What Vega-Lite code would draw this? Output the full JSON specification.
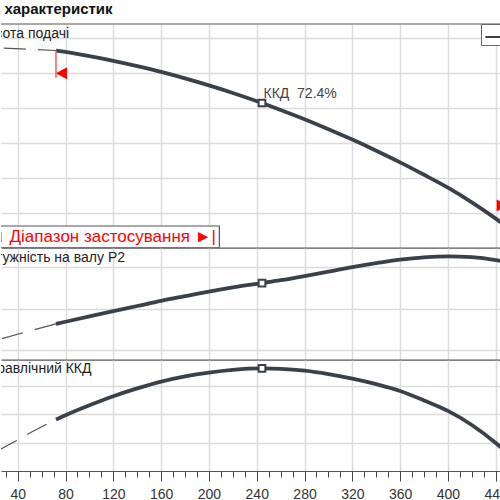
{
  "$schema": "https://vega.github.io/schema/vega-lite/v6.json",
  "padding": {"top": 2, "left": 0, "right": 0, "bottom": 0},
  "spacing": 0,
  "background": "white",
  "title": {"text": "характеристик", "anchor": "start", "fontSize": 15, "fontWeight": "bold", "font": "Liberation Sans", "color": "#111", "offset": 6, "dx": 4},
  "config": {
    "view": {"stroke": null},
    "font": "Liberation Sans",
    "axis": {"title": null, "labels": false, "ticks": false, "domain": false, "grid": true, "gridColor": "#dcdcdc", "gridWidth": 1.5, "minExtent": 0}
  },
  "datasets": {
    "head": [
      {"Q": 0, "value": 38.83, "part": "dashed"},
      {"Q": 26, "value": 38.61, "part": "dashed"},
      {"Q": 50, "value": 38.44, "part": "dashed"},
      {"Q": 72, "value": 38.25, "part": "dashed"},
      {"Q": 72, "value": 38.25, "part": "solid"},
      {"Q": 80, "value": 38.04, "part": "solid"},
      {"Q": 100, "value": 37.45, "part": "solid"},
      {"Q": 120, "value": 36.78, "part": "solid"},
      {"Q": 140, "value": 36.02, "part": "solid"},
      {"Q": 160, "value": 35.19, "part": "solid"},
      {"Q": 180, "value": 34.26, "part": "solid"},
      {"Q": 200, "value": 33.25, "part": "solid"},
      {"Q": 220, "value": 32.17, "part": "solid"},
      {"Q": 244.4, "value": 30.73, "part": "solid"},
      {"Q": 260, "value": 29.74, "part": "solid"},
      {"Q": 280, "value": 28.41, "part": "solid"},
      {"Q": 300, "value": 26.98, "part": "solid"},
      {"Q": 320, "value": 25.49, "part": "solid"},
      {"Q": 340, "value": 23.9, "part": "solid"},
      {"Q": 360, "value": 22.23, "part": "solid"},
      {"Q": 380, "value": 20.45, "part": "solid"},
      {"Q": 400, "value": 18.6, "part": "solid"},
      {"Q": 420, "value": 16.5, "part": "solid"},
      {"Q": 440, "value": 14.17, "part": "solid"},
      {"Q": 450, "value": 12.9, "part": "solid"}
    ],
    "power": [
      {"Q": 0, "value": 20.0, "part": "dashed"},
      {"Q": 26, "value": 21.37, "part": "dashed"},
      {"Q": 50, "value": 22.33, "part": "dashed"},
      {"Q": 72, "value": 23.17, "part": "dashed"},
      {"Q": 72, "value": 23.17, "part": "solid"},
      {"Q": 80, "value": 23.43, "part": "solid"},
      {"Q": 100, "value": 24.07, "part": "solid"},
      {"Q": 120, "value": 24.7, "part": "solid"},
      {"Q": 140, "value": 25.32, "part": "solid"},
      {"Q": 160, "value": 25.94, "part": "solid"},
      {"Q": 180, "value": 26.5, "part": "solid"},
      {"Q": 200, "value": 27.06, "part": "solid"},
      {"Q": 220, "value": 27.56, "part": "solid"},
      {"Q": 244.4, "value": 28.08, "part": "solid"},
      {"Q": 260, "value": 28.42, "part": "solid"},
      {"Q": 280, "value": 28.92, "part": "solid"},
      {"Q": 300, "value": 29.46, "part": "solid"},
      {"Q": 320, "value": 30.0, "part": "solid"},
      {"Q": 340, "value": 30.47, "part": "solid"},
      {"Q": 360, "value": 30.88, "part": "solid"},
      {"Q": 380, "value": 31.16, "part": "solid"},
      {"Q": 400, "value": 31.29, "part": "solid"},
      {"Q": 420, "value": 31.19, "part": "solid"},
      {"Q": 440, "value": 30.83, "part": "solid"},
      {"Q": 450, "value": 30.56, "part": "solid"}
    ],
    "eff": [
      {"Q": 0, "value": 0, "part": "dashed"},
      {"Q": 26, "value": 15.5, "part": "dashed"},
      {"Q": 43, "value": 23.3, "part": "dashed"},
      {"Q": 52, "value": 27.7, "part": "dashed"},
      {"Q": 72, "value": 36.3, "part": "dashed"},
      {"Q": 72, "value": 36.3, "part": "solid"},
      {"Q": 80, "value": 39.4, "part": "solid"},
      {"Q": 100, "value": 46.4, "part": "solid"},
      {"Q": 120, "value": 52.8, "part": "solid"},
      {"Q": 140, "value": 58.3, "part": "solid"},
      {"Q": 160, "value": 63.1, "part": "solid"},
      {"Q": 180, "value": 66.8, "part": "solid"},
      {"Q": 200, "value": 69.5, "part": "solid"},
      {"Q": 220, "value": 71.4, "part": "solid"},
      {"Q": 244.4, "value": 72.4, "part": "solid"},
      {"Q": 260, "value": 72.1, "part": "solid"},
      {"Q": 280, "value": 70.8, "part": "solid"},
      {"Q": 300, "value": 68.4, "part": "solid"},
      {"Q": 320, "value": 65.2, "part": "solid"},
      {"Q": 340, "value": 61.3, "part": "solid"},
      {"Q": 360, "value": 56.5, "part": "solid"},
      {"Q": 380, "value": 49.8, "part": "solid"},
      {"Q": 400, "value": 42.4, "part": "solid"},
      {"Q": 420, "value": 32.5, "part": "solid"},
      {"Q": 440, "value": 19.8, "part": "solid"},
      {"Q": 450, "value": 12.5, "part": "solid"}
    ],
    "bep": [
      {"Q": 244.4, "H": 30.73, "P": 28.08, "eta": 72.4, "label": "ККД\u00a0\u00a072.4%"}
    ],
    "range": [
      {"Q": 72, "H": 38.25, "Hmark": 34.99, "side": "start"},
      {"Q": 450, "H": 12.9, "Hmark": 16.05, "side": "end"}
    ]
  },
  "vconcat": [
    {
      "width": 500,
      "height": 223.7,
      "layer": [
        {
          "data": {"name": "head"},
          "transform": [{"filter": "datum.part == 'dashed'"}],
          "mark": {"type": "line", "clip": true, "color": "#555", "strokeWidth": 1.2, "strokeDash": [22, 12]},
          "encoding": {
            "x": {"field": "Q", "type": "quantitative", "scale": {"domain": [26, 444.4], "nice": false, "zero": false}, "axis": {"values": [40, 80, 120, 160, 200, 240, 280, 320, 360, 400, 440], "domain": true, "domainColor": "#555", "domainWidth": 1.2}},
            "y": {"field": "value", "type": "quantitative", "scale": {"domain": [10, 42.05], "nice": false, "zero": false}, "axis": {"values": [15, 20, 25, 30, 35, 40]}}
          }
        },
        {
          "data": {"name": "head"},
          "transform": [{"filter": "datum.part == 'solid'"}],
          "mark": {"type": "line", "clip": true, "strokeWidth": 3.8, "interpolate": "monotone"},
          "encoding": {
            "x": {"field": "Q", "type": "quantitative"},
            "y": {"field": "value", "type": "quantitative"},
            "stroke": {
              "datum": "curve",
              "scale": {"range": ["#3a414b"]},
              "legend": {
                "orient": "none", "legendX": 480, "legendY": 0, "title": null, "labelExpr": "''",
                "symbolType": "stroke", "symbolStrokeWidth": 2, "symbolSize": 300,
                "strokeColor": "#666", "fillColor": "white", "padding": 3, "labelFontSize": 10, "labelLimit": 40,
                "encode": {"symbols": {"update": {"stroke": {"value": "#999999"}, "strokeWidth": {"value": 2}}}}
              }
            }
          }
        },
        {
          "data": {"values": [{}]},
          "mark": {"type": "rule", "color": "#555", "strokeWidth": 1.2},
          "encoding": {"y": {"datum": 42.05}}
        },
        {
          "data": {"name": "range"},
          "mark": {"type": "rule", "clip": true, "color": "#ff5a5a", "strokeWidth": 1.5, "y2Offset": 4.5},
          "encoding": {
            "x": {"field": "Q", "type": "quantitative"},
            "y": {"field": "H", "type": "quantitative"},
            "y2": {"field": "Hmark"}
          }
        },
        {
          "data": {"name": "range"},
          "mark": {"type": "point", "clip": true, "filled": true, "color": "#ff0000", "opacity": 1, "size": 484},
          "encoding": {
            "x": {"field": "Q", "type": "quantitative"},
            "y": {"field": "Hmark", "type": "quantitative"},
            "shape": {"field": "side", "type": "nominal", "scale": {"domain": ["start", "end"], "range": ["M0,0L1,-0.55L1,0.55Z", "M0,0L-1,-0.55L-1,0.55Z"]}, "legend": null}
          }
        },
        {
          "data": {"name": "bep"},
          "mark": {"type": "point", "clip": true, "shape": "square", "size": 45, "filled": true, "fill": "white", "stroke": "#3a414b", "strokeWidth": 2, "opacity": 1},
          "encoding": {
            "x": {"field": "Q", "type": "quantitative"},
            "y": {"field": "H", "type": "quantitative"}
          }
        },
        {
          "data": {"name": "bep"},
          "mark": {"type": "text", "clip": true, "align": "left", "baseline": "alphabetic", "dx": 1.5, "dy": -5.3, "fontSize": 14, "color": "#444"},
          "encoding": {
            "x": {"field": "Q", "type": "quantitative"},
            "y": {"field": "H", "type": "quantitative"},
            "text": {"field": "label"}
          }
        },
        {
          "data": {"values": [{}]},
          "mark": {"type": "text", "clip": true, "align": "left", "baseline": "alphabetic", "dy": 13.7, "fontSize": 14, "color": "#222"},
          "encoding": {
            "x": {"datum": 7},
            "y": {"datum": 42.05},
            "text": {"value": "Висота подачі"}
          }
        },
        {
          "data": {"values": [{}]},
          "mark": {"type": "rect", "clip": true, "fill": "white", "stroke": "#555", "strokeWidth": 1.2},
          "encoding": {
            "x": {"datum": 0},
            "x2": {"datum": 208.7},
            "y": {"datum": 13.11},
            "y2": {"datum": 10}
          }
        },
        {
          "data": {"values": [{}]},
          "mark": {"type": "text", "clip": true, "align": "right", "baseline": "middle", "fontSize": 17, "color": "#ff0000"},
          "encoding": {
            "x": {"datum": 205.9},
            "y": {"datum": 11.56},
            "text": {"value": "|◄ Діапазон застосування ►|"}
          }
        }
      ]
    },
    {
      "width": 500,
      "height": 111.6,
      "layer": [
        {
          "data": {"name": "power"},
          "transform": [{"filter": "datum.part == 'dashed'"}],
          "mark": {"type": "line", "clip": true, "color": "#555", "strokeWidth": 1.2, "strokeDash": [22, 12]},
          "encoding": {
            "x": {"field": "Q", "type": "quantitative", "scale": {"domain": [26, 444.4], "nice": false, "zero": false}, "axis": {"values": [40, 80, 120, 160, 200, 240, 280, 320, 360, 400, 440], "domain": true, "domainColor": "#555", "domainWidth": 1.2}},
            "y": {"field": "value", "type": "quantitative", "scale": {"domain": [18.88, 32.29], "nice": false, "zero": false}, "axis": {"values": [20, 25, 30]}}
          }
        },
        {
          "data": {"name": "power"},
          "transform": [{"filter": "datum.part == 'solid'"}],
          "mark": {"type": "line", "clip": true, "color": "#3a414b", "strokeWidth": 3.8, "interpolate": "monotone"},
          "encoding": {
            "x": {"field": "Q", "type": "quantitative"},
            "y": {"field": "value", "type": "quantitative"}
          }
        },
        {
          "data": {"name": "bep"},
          "mark": {"type": "point", "clip": true, "shape": "square", "size": 45, "filled": true, "fill": "white", "stroke": "#3a414b", "strokeWidth": 2, "opacity": 1},
          "encoding": {
            "x": {"field": "Q", "type": "quantitative"},
            "y": {"field": "P", "type": "quantitative"}
          }
        },
        {
          "data": {"values": [{}]},
          "mark": {"type": "text", "clip": true, "align": "left", "baseline": "alphabetic", "dy": 13.5, "fontSize": 14, "color": "#222"},
          "encoding": {
            "x": {"datum": 7},
            "y": {"datum": 32.29},
            "text": {"value": "Потужність на валу P2"}
          }
        }
      ]
    },
    {
      "width": 500,
      "height": 111,
      "resolve": {"axis": {"x": "independent"}},
      "layer": [
        {
          "data": {"name": "eff"},
          "transform": [{"filter": "datum.part == 'dashed'"}],
          "mark": {"type": "line", "clip": true, "color": "#555", "strokeWidth": 1.2, "strokeDash": [22, 12]},
          "encoding": {
            "x": {
              "field": "Q", "type": "quantitative", "scale": {"domain": [26, 444.4], "nice": false, "zero": false},
              "axis": {
                "orient": "bottom",
                "values": [30, 50, 60, 70, 90, 100, 110, 130, 140, 150, 170, 180, 190, 210, 220, 230, 250, 260, 270, 290, 300, 310, 330, 340, 350, 370, 380, 390, 410, 420, 430],
                "grid": false, "labels": false,
                "domain": true, "domainColor": "#555", "domainWidth": 1.2,
                "ticks": true, "tickColor": "#444", "tickWidth": 1, "tickSize": 6
              }
            },
            "y": {"field": "value", "type": "quantitative", "scale": {"domain": [0, 78.35], "nice": false, "zero": false}, "axis": {"values": [20, 40, 60]}}
          }
        },
        {
          "data": {"name": "eff"},
          "transform": [{"filter": "datum.part == 'solid'"}],
          "mark": {"type": "line", "clip": true, "color": "#3a414b", "strokeWidth": 3.8, "interpolate": "monotone"},
          "encoding": {
            "x": {
              "field": "Q", "type": "quantitative",
              "axis": {
                "orient": "bottom",
                "values": [40, 80, 120, 160, 200, 240, 280, 320, 360, 400, 440],
                "grid": true, "domain": false,
                "ticks": true, "tickColor": "#444", "tickWidth": 1, "tickSize": 10,
                "labels": true, "labelFontSize": 14, "labelColor": "#333", "labelPadding": 6, "labelOverlap": false, "labelFlush": false
              }
            },
            "y": {"field": "value", "type": "quantitative"}
          }
        },
        {
          "data": {"name": "bep"},
          "mark": {"type": "point", "clip": true, "shape": "square", "size": 45, "filled": true, "fill": "white", "stroke": "#3a414b", "strokeWidth": 2, "opacity": 1},
          "encoding": {
            "x": {"field": "Q", "type": "quantitative"},
            "y": {"field": "eta", "type": "quantitative"}
          }
        },
        {
          "data": {"values": [{}]},
          "mark": {"type": "text", "clip": true, "align": "left", "baseline": "alphabetic", "dy": 13.4, "fontSize": 14, "color": "#222"},
          "encoding": {
            "x": {"datum": 7},
            "y": {"datum": 78.35},
            "text": {"value": "Гідравлічний ККД"}
          }
        }
      ]
    }
  ]
}
